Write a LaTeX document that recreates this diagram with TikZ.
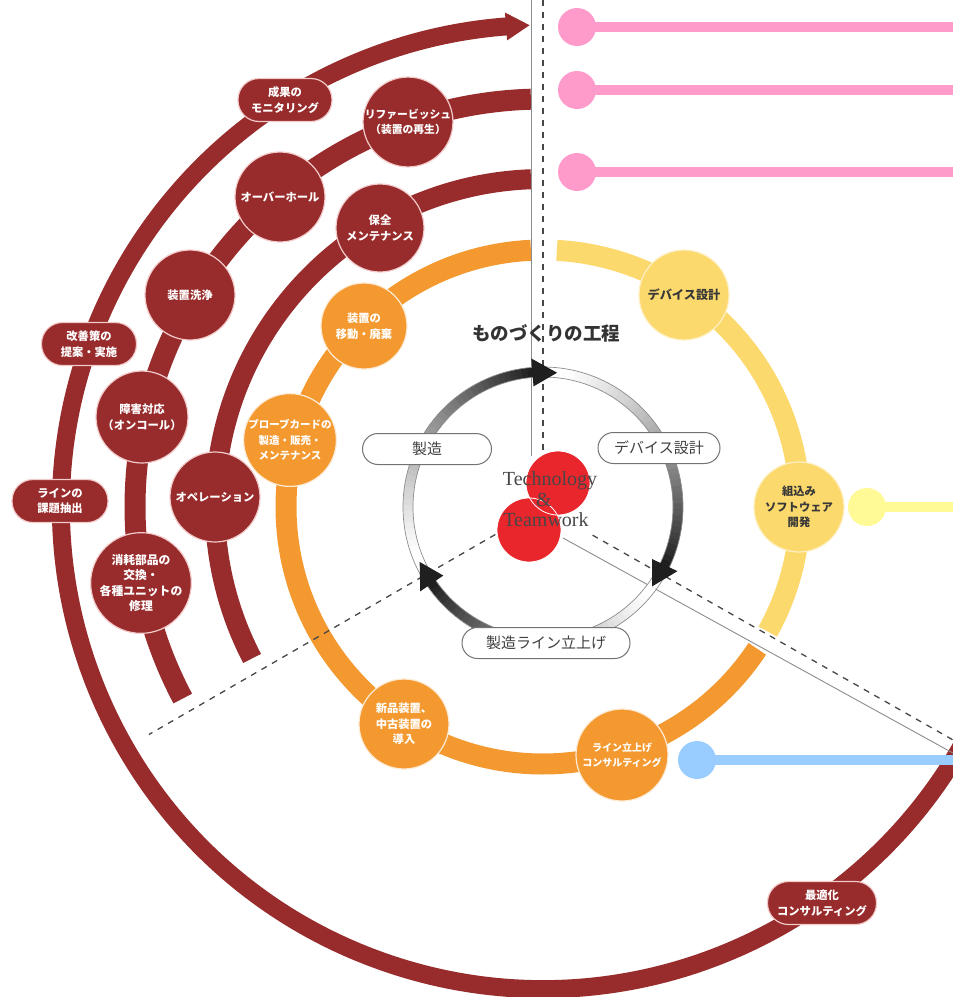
\documentclass[tikz,border=0pt]{standalone}
\usepackage{fontspec}
\newfontfamily\jp{Noto Sans CJK JP}
\newfontfamily\serifT{Liberation Serif}
\usetikzlibrary{calc}
\definecolor{dred}{HTML}{982B2B}
\definecolor{rededge}{HTML}{F2CACA}
\definecolor{orng}{HTML}{F3992F}
\definecolor{yell}{HTML}{FCD96C}
\definecolor{pinkc}{HTML}{FF9BCB}
\definecolor{lyell}{HTML}{FFFA96}
\definecolor{lblue}{HTML}{99CCFF}
\definecolor{redc}{HTML}{E8262C}
\newcommand\cirfont{\jp\bfseries\fontsize{11.3}{15.5}\selectfont}
\newcommand\labfont{\jp\fontsize{15}{15}\selectfont}
\begin{document}
\begin{tikzpicture}[x=1pt,y=-1pt,
  ringarc/.style={line cap=butt},
  redcirc/.style={circle, fill=dred, draw=rededge, line width=1.2pt, inner sep=0pt, minimum size=#1, text=white, font=\cirfont, align=center},
  redcirc/.default=90,
  redpill/.style={rectangle, rounded corners=21pt, fill=dred, draw=rededge, line width=1.2pt, minimum width=#1, minimum height=43pt, inner sep=0pt, text=white, font=\cirfont, align=center},
  orcirc/.style={circle, fill=orng, draw=white!80!orng, line width=1.2pt, inner sep=0pt, minimum size=#1, text=white, font=\cirfont, align=center},
  orcirc/.default=90,
  yecirc/.style={circle, fill=yell, draw=white!60!yell, line width=1.2pt, inner sep=0pt, minimum size=#1, text=black!78, font=\cirfont, align=center},
  yecirc/.default=90,
  ringlab/.style={rectangle, rounded corners=15.5pt, fill=white, draw=black!55, line width=1pt, minimum width=#1, minimum height=31pt, inner sep=0pt, font=\labfont, text=black!75},
  dashline/.style={draw=black!72, line width=1.3pt, dash pattern=on 6pt off 6pt},
  thinline/.style={draw=black!45, line width=0.9pt},
  feedline/.style={draw=#1, line width=10pt},
  endot/.style={circle, fill=#1, minimum size=38pt, inner sep=0pt},
  centcirc/.style={circle, fill=redc, minimum size=64pt, inner sep=0pt}
]
\useasboundingbox (0,0) rectangle (953,997);
\clip (0,0) rectangle (953,997);
\coordinate (C) at (543,507);

% ---- red rings ----
\draw[ringarc, dred, line width=18pt] ($(C)+(20:482)$) arc[start angle=20, end angle=265.8, radius=482];
\fill[dred] ($(C)+(268.4:482)$) -- ($(C)+(265.6:496)$) -- ($(C)+(265.6:468)$) -- cycle;
\draw[ringarc, dred, line width=21pt] ($(C)+(268.3:408)$) arc[start angle=268.3, end angle=152, radius=408];
\draw[ringarc, dred, line width=20pt] ($(C)+(267.9:328)$) arc[start angle=267.9, end angle=152.5, radius=328];

% ---- orange / yellow ring ----
\draw[ringarc, orng, line width=21pt] ($(C)+(267.3:257)$) arc[start angle=267.3, end angle=33.5, radius=257];
\draw[ringarc, yell, line width=21pt] ($(C)+(29:257)$) arc[start angle=29, end angle=-86.9, radius=257];

% ---- division lines ----
\coordinate (vs0) at (531,0);  \coordinate (vs1) at (531,456);
\coordinate (vd0) at (543,0);  \coordinate (vd1) at (543,452);
\coordinate (rs0) at (563,538); \coordinate (rs1) at (1000,779);
\coordinate (rd0) at ($(C)+(29.6:57)$); \coordinate (rd1) at ($(C)+(29.6:520)$);
\coordinate (ld0) at ($(C)+(150:55)$);  \coordinate (ld1) at ($(C)+(150:455)$);
\draw[thinline] (vs0) -- (vs1);
\draw[dashline] (vd0) -- (vd1);
\draw[thinline] (rs0) -- (rs1);
\draw[dashline] (rd0) -- (rd1);
\draw[dashline] (ld0) -- (ld1);

% ---- feed lines ----
\coordinate (p1) at (577,27);  \coordinate (p1e) at (960,27);
\coordinate (p2) at (577,90);  \coordinate (p2e) at (960,90);
\coordinate (p3) at (577,172); \coordinate (p3e) at (960,172);
\coordinate (y1) at (867,507); \coordinate (y1e) at (960,507);
\coordinate (b1) at (697,760); \coordinate (b1e) at (960,760);
\draw[feedline=pinkc] (p1) -- (p1e);
\draw[feedline=pinkc] (p2) -- (p2e);
\draw[feedline=pinkc] (p3) -- (p3e);
\draw[feedline=lyell] (y1) -- (y1e);
\draw[feedline=lblue] (b1) -- (b1e);
\node[endot=pinkc] (p1d) at (p1) {};
\node[endot=pinkc] (p2d) at (p2) {};
\node[endot=pinkc] (p3d) at (p3) {};
\node[endot=lyell] (y1d) at (y1) {};
\node[endot=lblue] (b1d) at (b1) {};

% ---- inner gradient ring ----
\foreach \s in {156,276,396}{
  \foreach \i in {0,...,43}{
    \pgfmathsetmacro\aa{\s+\i*2.5}
    \pgfmathsetmacro\bb{\aa+2.8}
    \pgfmathtruncatemacro\pp{88*((\i/43)^1.25)}
    \draw[ringarc, line width=10pt, draw=black!\pp] ($(C)+(\aa:135)$) arc[start angle=\aa, end angle=\bb, radius=135];
  }
}
\draw[black!45, line width=0.7pt] (C) circle[radius=130];
\draw[black!45, line width=0.7pt] (C) circle[radius=140];
\foreach \t in {156,276,396}{
  \fill[black!88] ($(C)+(\t:135)$) -- ($(C)+({\t-10.5}:149)$) -- ($(C)+({\t-10.5}:121)$) -- cycle;
}

% ---- inner labels ----
\node[ringlab=129] (lab1) at (427,449) {製造};
\node[ringlab=122] (lab2) at (659,448) {デバイス設計};
\node[ringlab=168] (lab3) at (546,643) {製造ライン立上げ};

% ---- red ring nodes ----
\node[redcirc=88, font=\jp\bfseries\fontsize{10.8}{15}\selectfont] (rf) at (408,122) {リファービッシュ\\（装置の再生）};
\node[redcirc=90] (oh) at (280,197) {オーバーホール};
\node[redcirc=90] (sw) at (190,295) {装置洗浄};
\node[redcirc=92] (sg) at (142,417) {障害対応\\（オンコール）};
\node[redcirc=92, font=\jp\bfseries\fontsize{11.8}{15.5}\selectfont] (sm) at (141,583) {消耗部品の\\交換・\\各種ユニットの\\修理};
\node[redcirc=88] (hz) at (380,228) {保全\\メンテナンス};
\node[redcirc=90] (op) at (215,497) {オペレーション};
\node[redpill=94] (sk) at (285,100) {成果の\\モニタリング};
\node[redpill=95] (ka) at (89,344) {改善策の\\提案・実施};
\node[redpill=96] (lk) at (60,501) {ラインの\\課題抽出};
\node[redpill=109] (sc) at (822,903) {最適化\\コンサルティング};

% ---- orange / yellow nodes ----
\node[orcirc=86] (ih) at (364,326) {装置の\\移動・廃棄};
\node[orcirc=92, font=\jp\bfseries\fontsize{10.5}{15.5}\selectfont] (pc) at (290,440) {プローブカードの\\製造・販売・\\メンテナンス};
\node[orcirc=90] (sh) at (404,724) {新品装置、\\中古装置の\\導入};
\node[orcirc=92, font=\jp\bfseries\fontsize{10}{15}\selectfont] (lt) at (622,755) {ライン立上げ\\コンサルティング};
\node[yecirc=90, font=\jp\bfseries\fontsize{12.2}{15}\selectfont] (ds) at (684,295) {デバイス設計};
\node[yecirc=90] (ks) at (799,507) {組込み\\ソフトウェア\\開発};

% ---- center ----
\node[centcirc] (cc1) at (558,483) {};
\node[centcirc] (cc2) at (529,530) {};
\draw[white, line width=0.8pt] (cc1) circle[radius=32];
\draw[white, line width=0.8pt] (cc2) circle[radius=32];
\node[font=\serifT\fontsize{20}{20}\selectfont, text=black!72, inner sep=0pt] (tw1) at (550,481) {Technology};
\node[font=\serifT\fontsize{20}{20}\selectfont, text=black!72, inner sep=0pt] (tw2) at (544,500) {\&};
\node[font=\serifT\fontsize{20}{20}\selectfont, text=black!72, inner sep=0pt] (tw3) at (546,520) {Teamwork};

\node[font=\jp\bfseries\fontsize{18.5}{18.5}\selectfont, text=black!80] (title) at (546,333) {ものづくりの工程};
\end{tikzpicture}
\end{document}
